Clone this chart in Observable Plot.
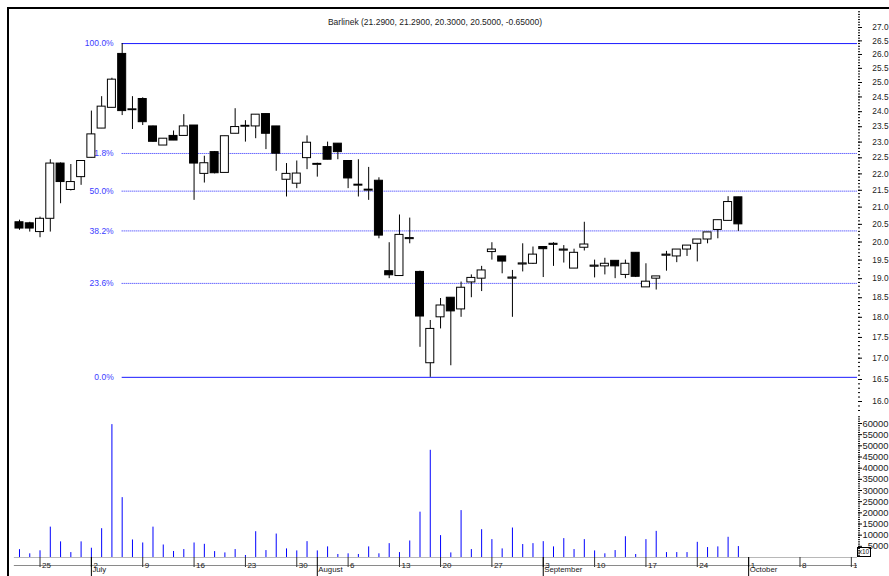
<!DOCTYPE html>
<html><head><meta charset="utf-8">
<script src="https://cdn.jsdelivr.net/npm/d3@7"></script>
<script src="https://cdn.jsdelivr.net/npm/@observablehq/plot@0.6"></script>
<style>
html,body{margin:0;padding:0;background:#fff;}
#chart{position:relative;width:889px;height:576px;overflow:hidden;background:#fff;font-family:"Liberation Sans",Arial,sans-serif;}
#chart svg{position:absolute;left:0;overflow:visible;}
#frame{position:absolute;left:7px;top:7px;right:0;bottom:0;border-top:2px solid #000;border-left:2px solid #000;pointer-events:none;}
#x10{position:absolute;left:857px;top:547px;width:12px;height:8px;border:1px solid #000;font-size:6.5px;line-height:8px;text-align:center;color:#222;}
</style></head><body><div id="chart"><div id="frame"></div></div>
<script>
const ticker = "Barlinek";
const dates = [
"2007-06-21","2007-06-22",
"2007-06-25","2007-06-26","2007-06-27","2007-06-28","2007-06-29",
"2007-07-02","2007-07-03","2007-07-04","2007-07-05","2007-07-06",
"2007-07-09","2007-07-10","2007-07-11","2007-07-12","2007-07-13",
"2007-07-16","2007-07-17","2007-07-18","2007-07-19","2007-07-20",
"2007-07-23","2007-07-24","2007-07-25","2007-07-26","2007-07-27",
"2007-07-30","2007-07-31","2007-08-01","2007-08-02","2007-08-03",
"2007-08-06","2007-08-07","2007-08-08","2007-08-09","2007-08-10",
"2007-08-13","2007-08-14","2007-08-16","2007-08-17",
"2007-08-20","2007-08-21","2007-08-22","2007-08-23","2007-08-24",
"2007-08-27","2007-08-28","2007-08-29","2007-08-30","2007-08-31",
"2007-09-03","2007-09-04","2007-09-05","2007-09-06","2007-09-07",
"2007-09-10","2007-09-11","2007-09-12","2007-09-13","2007-09-14",
"2007-09-17","2007-09-18","2007-09-19","2007-09-20","2007-09-21",
"2007-09-24","2007-09-25","2007-09-26","2007-09-27","2007-09-28"];
const open = [20.56,20.53,20.28,20.66,22.32,21.51,21.90,
22.50,23.44,24.13,26.02,24.05,
24.43,23.51,22.89,23.20,23.20,
23.54,22.00,22.68,22.03,23.27,
23.50,23.51,23.92,23.51,21.82,
21.70,22.49,22.28,22.84,22.95,
22.40,21.64,21.49,21.79,19.20,
19.07,20.08,19.18,16.88,
18.00,18.50,18.20,18.90,19.00,
19.72,19.60,19.00,19.38,19.40,
19.86,19.92,19.76,19.27,19.84,
19.32,19.33,19.48,19.10,19.70,
18.77,19.00,19.62,19.60,19.79,
19.95,20.07,20.34,20.60,21.29];
const high = [20.62,20.56,20.71,22.44,22.34,22.29,22.40,
24.02,24.51,25.15,26.40,24.51,
24.47,23.52,23.11,23.36,23.90,
23.54,22.55,22.70,23.19,24.10,
23.70,23.90,23.92,23.51,22.32,
22.40,23.20,22.33,23.00,22.95,
22.40,22.44,22.20,21.88,19.98,
20.77,20.68,19.20,17.92,
18.48,18.50,18.91,19.10,19.33,
19.98,19.60,19.22,19.95,19.86,
19.86,19.98,19.90,19.80,20.56,
19.50,19.55,19.48,19.50,19.70,
19.40,19.06,19.74,19.79,19.90,
20.07,20.27,20.62,21.31,21.29];
const low = [20.33,20.28,20.12,20.28,21.10,21.48,21.65,
22.50,23.44,24.13,23.87,23.41,
23.54,23.00,22.89,23.05,23.20,
21.20,21.72,22.00,22.03,23.27,
23.00,23.11,22.76,22.08,21.30,
21.55,22.13,21.90,22.44,22.44,
21.55,21.30,21.20,20.09,19.00,
19.07,19.95,17.26,16.55,
17.71,16.82,18.00,18.50,18.66,
19.50,19.13,18.00,19.18,19.38,
19.03,19.33,19.42,19.27,19.75,
19.02,19.10,19.00,19.00,19.03,
18.77,18.70,19.20,19.43,19.60,
19.45,19.95,20.09,20.60,20.30];
const close = [20.38,20.38,20.66,22.32,21.75,21.75,22.40,
23.25,24.17,25.10,24.02,24.08,
23.65,23.01,23.11,23.05,23.51,
22.32,22.33,22.02,23.19,23.49,
23.53,23.90,23.27,22.63,22.00,
22.01,22.98,22.31,22.44,22.68,
21.86,21.67,21.52,20.18,19.09,
20.20,20.11,18.02,17.71,
18.30,18.15,18.76,19.02,19.22,
19.79,19.46,19.03,19.41,19.65,
19.80,19.95,19.79,19.70,19.93,
19.35,19.40,19.33,19.40,19.05,
18.92,19.06,19.65,19.79,19.90,
20.07,20.27,20.62,21.15,20.50];
const volume = [3500,1650,3000,13600,7000,2200,7000,
4150,12900,59500,26800,7850,
6500,13600,5600,2700,3550,
6500,5900,2650,2050,3550,
900,11550,3100,10500,3850,
2950,7100,2950,4750,1350,
1650,1350,4750,1650,6200,
2200,7400,20300,48000,
9800,2050,21000,3550,12450,
8000,3850,13200,5800,6200,
7100,4750,8450,3550,8000,
2950,1650,3100,9300,1350,
8000,11700,2200,2200,2200,
6800,4450,4750,9050,4900];
const holidays = ["2007-08-15"];
const weekTicks = ["2007-06-25","2007-07-02","2007-07-09","2007-07-16","2007-07-23","2007-07-30",
"2007-08-06","2007-08-13","2007-08-20","2007-08-27","2007-09-03","2007-09-10","2007-09-17",
"2007-09-24","2007-10-01","2007-10-08","2007-10-15"];
const monthStarts = ["2007-07-02","2007-08-01","2007-09-03","2007-10-01"];
const monthNames = ["July","August","September","October"];
const priceTicks = [16.0,16.5,17.0,17.5,18.0,18.5,19.0,19.5,20.0,20.5,21.0,21.5,22.0,22.5,23.0,23.5,24.0,24.5,25.0,25.5,26.0,26.5,27.0];
const volumeTicks = [5000,10000,15000,20000,25000,30000,35000,40000,45000,50000,55000,60000];
const fibRatios = [1, 0.618, 0.5, 0.382, 0.236, 0];

const fmtDay = d3.utcFormat("%Y-%m-%d");
const parse = d3.utcParse("%Y-%m-%d");
const start = parse(dates[0]);
function tradingIndex(s) {
  const end = parse(s);
  let n = 0;
  for (let t = start; t < end; t = d3.utcDay.offset(t, 1)) {
    const wd = t.getUTCDay();
    if (wd !== 0 && wd !== 6 && !holidays.includes(fmtDay(t))) n++;
  }
  return n;
}
const rows = dates.map((d, k) => ({i: tradingIndex(d), date: d, o: open[k], h: high[k], l: low[k], c: close[k], v: volume[k]}));
const up = rows.filter(r => r.c >= r.o);
const down = rows.filter(r => r.c < r.o);
const weekRows = weekTicks.map(d => ({i: tradingIndex(d), label: String(+d.slice(8))}));
const monthRows = monthStarts.map((d, k) => ({i: tradingIndex(d), label: monthNames[k]}));

const hi = d3.max(high), lo = d3.min(low);
const hiIndex = rows[d3.maxIndex(high)].i;
const fibs = fibRatios.map(r => ({r, price: lo + r * (hi - lo), label: (r * 100).toFixed(1) + "%"}));
const n = rows.length;
const last = rows[n - 1], prev = rows[n - 2];
const title = `${ticker} (${last.o.toFixed(4)}, ${last.h.toFixed(4)}, ${last.l.toFixed(4)}, ${last.c.toFixed(4)}, ${(last.c - prev.c).toFixed(5)})`;

const priceMinor = d3.range(158, 277).map(v => v / 10);
const volMinor = d3.range(1, 64).map(v => v * 1000);

const xDomain = [-1.07, 81.6];
const font = '"Liberation Sans", Arial, sans-serif';
const common = {width: 889, marginLeft: 8, marginRight: 32,
  style: {background: "transparent", overflow: "visible", fontFamily: font}};

const pricePlot = Plot.plot({
  ...common, height: 415, marginTop: 8, marginBottom: 0,
  x: {domain: xDomain, axis: null},
  y: {type: "log", domain: [16, 27], range: [401, 27]},
  marks: [
    Plot.ruleY(fibs.filter(f => f.r === 0 || f.r === 1), {y: "price", x1: hiIndex, x2: xDomain[1], stroke: "#1a1aff"}),
    Plot.ruleY(fibs.filter(f => f.r !== 0 && f.r !== 1), {y: "price", x1: hiIndex, x2: xDomain[1], stroke: "#2222ff", strokeDasharray: "1,1"}),
    Plot.text(fibs, {y: "price", x: hiIndex, text: "label", textAnchor: "end", dx: -8.5, fill: "#3c3cff", fontSize: 8.5}),
    Plot.ruleX(rows, {x: "i", y1: "l", y2: "h", stroke: "#000"}),
    Plot.rect(up, {x1: d => d.i - 0.39, x2: d => d.i + 0.39, y1: "o", y2: "c", fill: "#fff", stroke: "#000"}),
    Plot.rect(down, {x1: d => d.i - 0.39, x2: d => d.i + 0.39, y1: "o", y2: "c", fill: "#000", stroke: "#000"}),
    Plot.axisY(priceMinor, {anchor: "right", tickSize: 2, fill: "none", label: null, stroke: "#000"}),
    Plot.axisY(priceTicks, {anchor: "right", tickSize: 4, fill: "none", label: null, stroke: "#000"}),
    Plot.text(priceTicks, {y: d => d, text: d => d.toFixed(1), frameAnchor: "right", dx: 31, textAnchor: "end", fill: "#222", fontSize: 8.3}),
    Plot.text([title], {text: d => d, frameAnchor: "top", dy: 10, dx: 2, fill: "#222", fontSize: 8.5})
  ]
});

const volPlot = Plot.plot({
  ...common, height: 142, marginTop: 8, marginBottom: 0,
  x: {domain: xDomain, axis: null},
  y: {domain: [0, 60000]},
  marks: [
    Plot.ruleY([0], {x1: -0.5, x2: xDomain[1], stroke: "#b8b8b8"}),
    Plot.ruleX(rows, {x: "i", y1: 0, y2: "v", stroke: "#0000ff"}),
    Plot.axisY(volMinor, {anchor: "right", tickSize: 2, fill: "none", label: null, stroke: "#000"}),
    Plot.axisY(volumeTicks, {anchor: "right", tickSize: 4, fill: "none", label: null, stroke: "#000"}),
    Plot.text(volumeTicks, {y: d => d, text: d => String(d), frameAnchor: "right", dx: 31, textAnchor: "end", fill: "#222", fontSize: 9.4})
  ]
});

const datePlot = Plot.plot({
  ...common, height: 19, marginTop: 0, marginBottom: 0,
  x: {domain: xDomain, axis: null},
  y: {type: "point", domain: ["day", "month"], range: [0, 10], axis: null},
  marks: [
    Plot.ruleY(["month"], {y: d => d, x1: -0.5, x2: xDomain[1], stroke: "#8a8a8a"}),
    Plot.ruleX(weekRows, {x: "i", insetBottom: 9, stroke: "#333"}),
    Plot.ruleX(monthRows, {x: "i", stroke: "#000"}),
    Plot.text(weekRows, {x: "i", text: "label", frameAnchor: "top", dy: 4.5, dx: 2, textAnchor: "start", fill: "#222", fontSize: 8, clip: true}),
    Plot.text(monthRows, {x: "i", text: "label", frameAnchor: "bottom", dy: -4.2, dx: 1, textAnchor: "start", fill: "#222", fontSize: 7.8})
  ]
});

const chart = document.getElementById("chart");
pricePlot.style.top = "0px";
volPlot.style.top = "415px";
datePlot.style.top = "557px";
chart.appendChild(pricePlot);
chart.appendChild(volPlot);
chart.appendChild(datePlot);
const x10 = document.createElement("div");
x10.id = "x10";
x10.textContent = "x10";
chart.appendChild(x10);
</script></body></html>
